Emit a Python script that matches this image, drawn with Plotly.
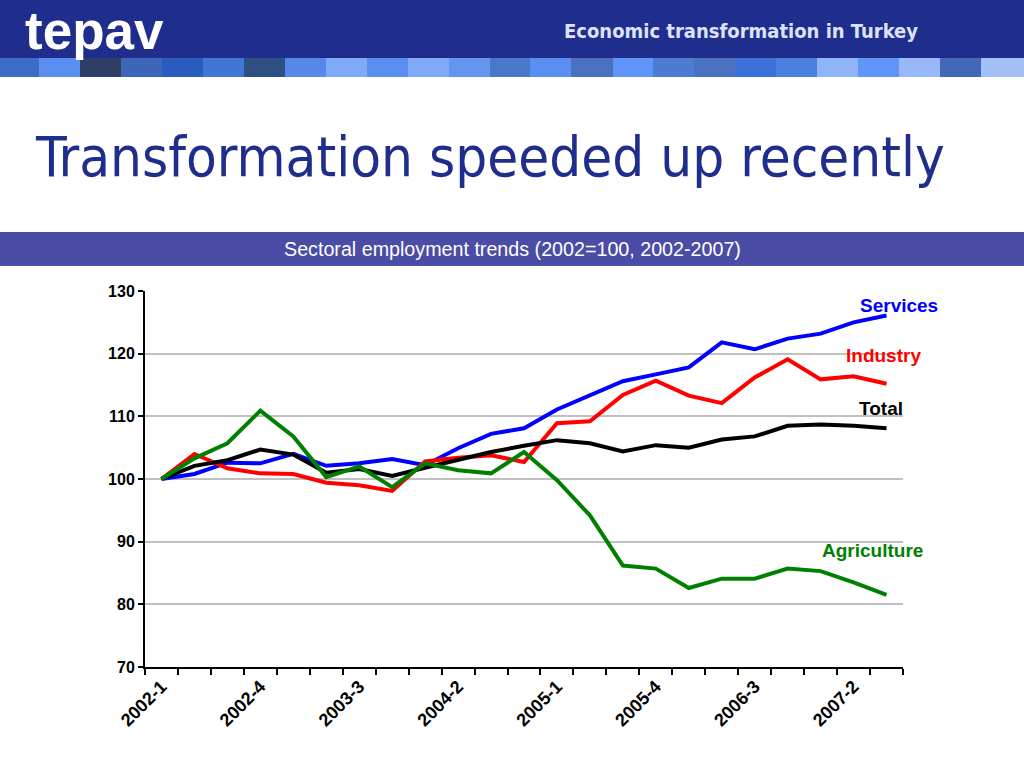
import plotly.graph_objects as go

quarters = ["2002-1", "2002-2", "2002-3", "2002-4", "2003-1", "2003-2", "2003-3", "2003-4",
            "2004-1", "2004-2", "2004-3", "2004-4", "2005-1", "2005-2", "2005-3", "2005-4",
            "2006-1", "2006-2", "2006-3", "2006-4", "2007-1", "2007-2", "2007-3"]
tick_labels = ["2002-1", "", "", "2002-4", "", "", "2003-3", "", "", "2004-2", "", "",
               "2005-1", "", "", "2005-4", "", "", "2006-3", "", "", "2007-2", ""]

services = [100, 100.8, 102.6, 102.5, 104.0, 102.1, 102.5, 103.2, 102.2, 104.9, 107.2, 108.1,
            111.1, 113.4, 115.6, 116.7, 117.8, 121.8, 120.7, 122.4, 123.2, 125.0, 126.1]
industry = [100, 104.0, 101.7, 100.9, 100.8, 99.4, 99.0, 98.1, 102.8, 103.4, 103.8, 102.7,
            108.9, 109.2, 113.4, 115.7, 113.3, 112.1, 116.2, 119.1, 115.9, 116.4, 115.2]
total = [100, 102.1, 103.0, 104.7, 103.9, 101.0, 101.6, 100.5, 101.8, 103.1, 104.3, 105.3,
         106.2, 105.7, 104.4, 105.4, 105.0, 106.3, 106.8, 108.5, 108.7, 108.5, 108.1]
agriculture = [100, 103.3, 105.7, 110.9, 106.8, 100.3, 102.0, 98.7, 102.5, 101.4, 100.9, 104.3,
               99.8, 94.2, 86.2, 85.7, 82.6, 84.1, 84.1, 85.7, 85.3, 83.5, 81.5]

series_names = ["Services", "Industry", "Total", "Agriculture"]
series_colors = ["#0000ff", "#ff0000", "#000000", "#008000"]

W, H = 1024, 768
ML, MR, MT, MB = 145, 121, 291, 101
PW, PH = W - ML - MR, H - MT - MB


def px(x):
    return (x - ML) / PW


def py(y):
    return (H - MB - y) / PH


fig = go.Figure()
for name, vals, col in zip(series_names, [services, industry, total, agriculture], series_colors):
    fig.add_trace(go.Scatter(x=quarters, y=vals, mode="lines", name=name,
                             line=dict(color=col, width=4), showlegend=False))

shapes = []
# header band
shapes.append(dict(type="rect", xref="paper", yref="paper", x0=px(0), x1=px(W), y0=py(0), y1=py(58),
                   fillcolor="#1f2e8c", line=dict(width=0), layer="below"))
sq_edges = [0, 39, 80, 121, 162, 203, 244, 285, 326, 367, 408, 449, 490, 530, 571, 613, 653,
            694, 735, 776, 817, 858, 899, 940, 981, 1024]
sq_colors = ["#3a6cc8", "#5a8ef0", "#2e3f66", "#3d65b8", "#2a5cc0", "#4077d6", "#2f4f82",
             "#5588e8", "#80aaf8", "#5a8ef0", "#80aaf8", "#6496f0", "#4a78c8", "#5a8ef0",
             "#4a70c0", "#5f95f8", "#4d7cd0", "#4a72c0", "#3a70d8", "#4a80e0", "#90b4f8",
             "#5f95f8", "#9ab8f8", "#4468b8", "#a4c0f8"]
for i, c in enumerate(sq_colors):
    shapes.append(dict(type="rect", xref="paper", yref="paper", x0=px(sq_edges[i]), x1=px(sq_edges[i + 1]),
                       y0=py(58), y1=py(77), fillcolor=c, line=dict(width=0), layer="below"))
# subtitle band
shapes.append(dict(type="rect", xref="paper", yref="paper", x0=px(0), x1=px(W), y0=py(232), y1=py(266),
                   fillcolor="#4b4ca6", line=dict(width=0), layer="below"))

annotations = [
    dict(text="<b>tepav</b>", xref="paper", yref="paper", x=px(24), y=py(0), xanchor="left", yanchor="top",
         showarrow=False, borderpad=0,
         font=dict(family="Liberation Sans, Arial", size=53, color="white")),
    dict(text="<b>Economic transformation in Turkey</b>", xref="paper", yref="paper", x=px(920), y=py(31),
         xanchor="right", yanchor="middle", showarrow=False,
         font=dict(family="DejaVu Sans Condensed, Liberation Sans", size=20, color="#dde3ff")),
    dict(text="Transformation speeded up recently", xref="paper", yref="paper", x=px(33), y=py(156),
         xanchor="left", yanchor="middle", showarrow=False,
         font=dict(family="DejaVu Sans Condensed, DejaVu Sans", size=56, color="#1f2e8c")),
    dict(text="Sectoral employment trends (2002=100, 2002-2007)", xref="paper", yref="paper", x=px(512), y=py(249),
         xanchor="center", yanchor="middle", showarrow=False,
         font=dict(family="Liberation Sans, Arial", size=19.7, color="white")),
]
label_pos = [(899, 305), (883, 355), (881, 408), (872, 550)]
for name, col, (lx, ly) in zip(series_names, series_colors, label_pos):
    annotations.append(dict(text="<b>%s</b>" % name, xref="paper", yref="paper", x=px(lx), y=py(ly),
                            xanchor="center", yanchor="middle", showarrow=False,
                            font=dict(family="Liberation Sans, Arial", size=19, color=col)))

fig.update_layout(
    width=W, height=H,
    margin=dict(l=ML, r=MR, t=MT, b=MB, autoexpand=False),
    paper_bgcolor="white", plot_bgcolor="white",
    shapes=shapes, annotations=annotations,
    xaxis=dict(type="category", tickmode="array", tickvals=quarters, ticktext=tick_labels,
               tickson="boundaries", ticks="outside", ticklen=6, tickwidth=2, tickcolor="black",
               showline=True, linecolor="black", linewidth=2, showgrid=False, tickangle=-45,
               tickfont=dict(family="Liberation Sans, Arial", size=18, color="black", weight="bold"),
               range=[-0.5, 22.5]),
    yaxis=dict(range=[70, 130], dtick=10, tick0=70, ticks="outside", ticklen=5, tickwidth=2,
               tickcolor="black", showline=True, linecolor="black", linewidth=2,
               showgrid=True, gridcolor="#c0c0c0", gridwidth=2, zeroline=False,
               tickfont=dict(family="Liberation Sans, Arial", size=16, color="black", weight="bold")),
)

fig.write_html("out.html", config={"displayModeBar": False},
               post_script="document.body.style.margin='0';document.body.style.overflow='hidden';")
